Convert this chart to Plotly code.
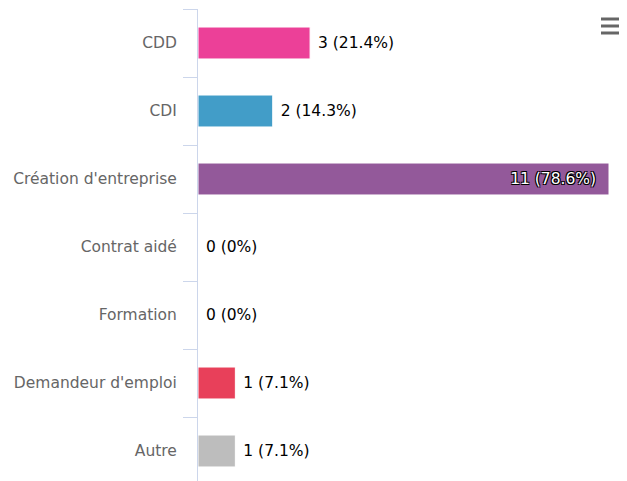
import plotly.graph_objects as go

categories = ["CDD", "CDI", "Création d'entreprise", "Contrat aidé", "Formation",
              "Demandeur d'emploi", "Autre"]
counts = [3, 2, 11, 0, 0, 1, 1]
percents = ["21.4%", "14.3%", "78.6%", "0%", "0%", "7.1%", "7.1%"]
colors = ["#ec4098", "#429dc8", "#93599a", "#f7a35c", "#90ed7d", "#e8405a", "#bdbdbd"]

# page body adds an 8px offset, so the figure is drawn 8px smaller
W, H = 619, 473
ML, MR, MT, MB = 190, 18, 1, 0
ROW = 68  # pixel height of one category row

labels = [f"{c} ({p})" for c, p in zip(counts, percents)]
xmax = max(counts)
inside = [c == xmax for c in counts]

fig = go.Figure()
fig.add_trace(go.Bar(
    y=categories,
    x=counts,
    orientation="h",
    marker=dict(color=colors, line=dict(color="white", width=1)),
    text=[t + "  " if i else " " + t for t, i in zip(labels, inside)],
    textposition=["inside" if i else "outside" for i in inside],
    insidetextanchor="end",
    insidetextfont=dict(
        family="DejaVu Sans", size=15.5, color="white",
        shadow="1px 1px 0 #000, -1px -1px 0 #000, 1px -1px 0 #000, -1px 1px 0 #000",
    ),
    outsidetextfont=dict(family="DejaVu Sans", size=15.5, color="black"),
    cliponaxis=False,
    hoverinfo="none",
))

# pixels of the figure -> paper coordinates
pw, ph = W - ML - MR, H - MT - MB
def px(x):
    return (x - ML) / pw
def py(y):
    return 1 - (y - MT) / ph

# export menu icon (three bars), screen px minus the 8px body offset
shapes = []
for yy in (19, 26, 33):
    shapes.append(dict(type="line", xref="paper", yref="paper",
                       x0=px(601 - 8), x1=px(622 - 8), y0=py(yy - 8), y1=py(yy - 8),
                       line=dict(color="#666666", width=3)))

span = ph / ROW
fig.update_layout(
    width=W, height=H,
    margin=dict(l=ML, r=MR, t=MT, b=MB, pad=0),
    paper_bgcolor="white", plot_bgcolor="white",
    bargap=0.53,
    showlegend=False,
    shapes=shapes,
    font=dict(family="DejaVu Sans"),
)
fig.update_xaxes(range=[0, xmax], showgrid=False, zeroline=False,
                 showticklabels=False, showline=False, ticks="")
fig.update_yaxes(
    type="category",
    range=[-0.5 + span, -0.5],
    tickson="boundaries",
    ticks="outside", ticklen=14, tickcolor="#ccd6eb", tickwidth=1,
    showline=True, linecolor="#ccd6eb", linewidth=1,
    showgrid=False,
    tickfont=dict(family="DejaVu Sans", size=15.5, color="#666666"),
    ticklabelstandoff=17,
)

fig.write_html("out.html")
